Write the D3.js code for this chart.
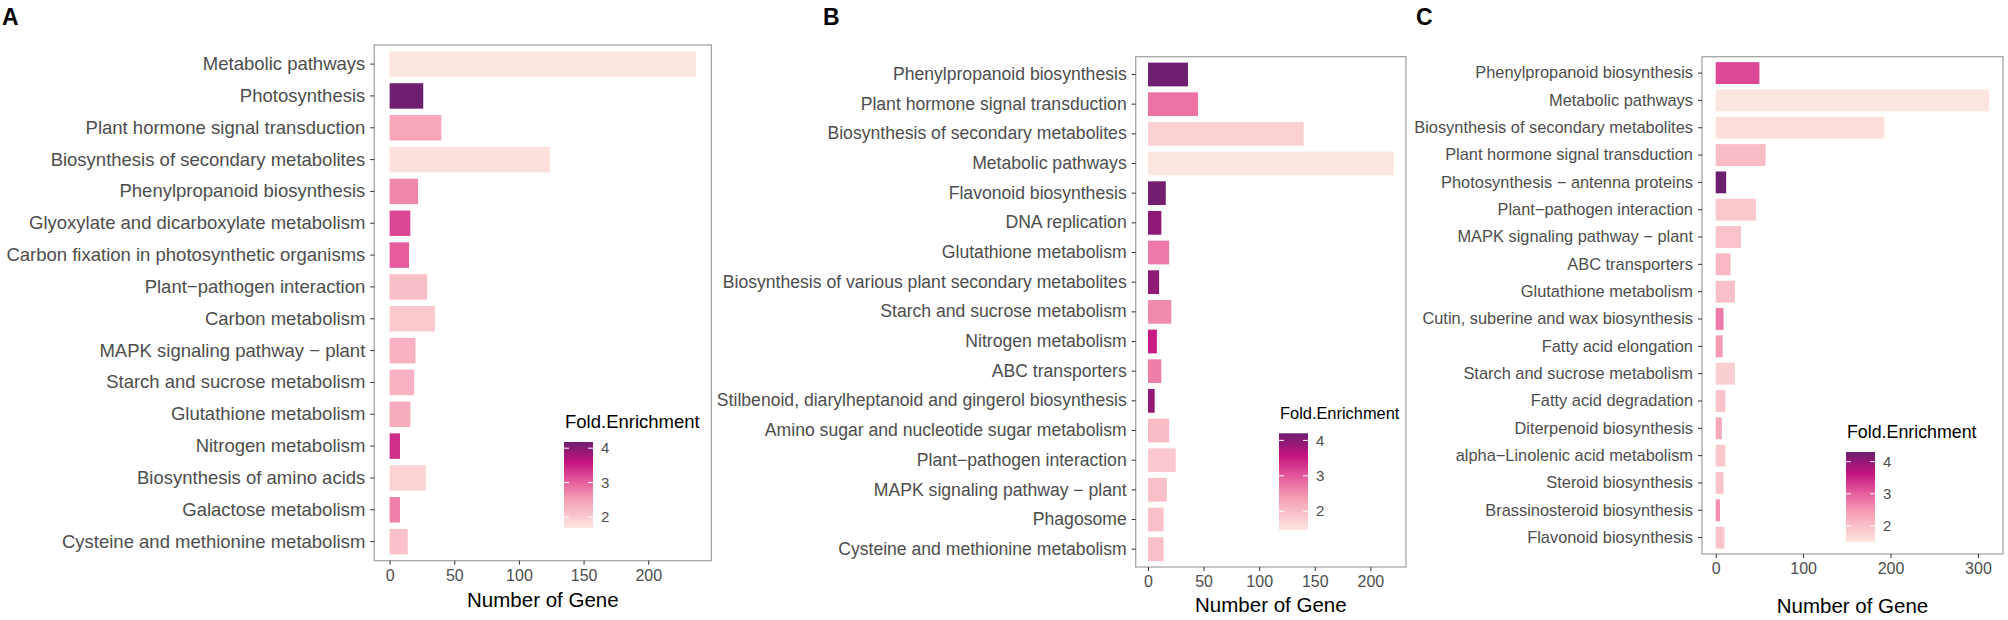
<!DOCTYPE html>
<html lang="en">
<head>
<meta charset="UTF-8">
<title>KEGG enrichment bars</title>
<script src="https://d3js.org/d3.v7.min.js"></script>
<style>
  body { margin: 0; background: #ffffff; }
  svg { display: block; font-family: "Liberation Sans", Arial, sans-serif; }
  .frame { fill: none; stroke: #a6a6a6; stroke-width: 1.3; }
  .axis text { fill: #4d4d4d; }
  .axis line { stroke: #333333; }
  .axis path { display: none; }
  .title { fill: #000000; }
</style>
</head>
<body>
<svg id="chart" width="2008" height="620"></svg>
<script>
// ---- data ----
var catsA = ["Metabolic pathways", "Photosynthesis", "Plant hormone signal transduction",
  "Biosynthesis of secondary metabolites", "Phenylpropanoid biosynthesis",
  "Glyoxylate and dicarboxylate metabolism", "Carbon fixation in photosynthetic organisms",
  "Plant\u2212pathogen interaction", "Carbon metabolism", "MAPK signaling pathway \u2212 plant",
  "Starch and sucrose metabolism", "Glutathione metabolism", "Nitrogen metabolism",
  "Biosynthesis of amino acids", "Galactose metabolism", "Cysteine and methionine metabolism"];
var countA = [237, 26, 40, 124, 22, 16, 15, 29, 35, 20, 19, 16, 8, 28, 8, 14];
var foldA = [1.68, 4.18, 2.4, 1.75, 2.7, 3.2, 3.05, 2.15, 2.0, 2.3, 2.3, 2.35, 3.4, 1.9, 2.75, 2.1];

var catsB = ["Phenylpropanoid biosynthesis", "Plant hormone signal transduction",
  "Biosynthesis of secondary metabolites", "Metabolic pathways", "Flavonoid biosynthesis",
  "DNA replication", "Glutathione metabolism", "Biosynthesis of various plant secondary metabolites",
  "Starch and sucrose metabolism", "Nitrogen metabolism", "ABC transporters",
  "Stilbenoid, diarylheptanoid and gingerol biosynthesis", "Amino sugar and nucleotide sugar metabolism",
  "Plant\u2212pathogen interaction", "MAPK signaling pathway \u2212 plant", "Phagosome",
  "Cysteine and methionine metabolism"];
var countB = [36, 45, 140, 221, 16, 12, 19, 10, 21, 8, 12, 6, 19, 25, 17, 14, 14];
var foldB = [4.2, 2.75, 1.75, 1.47, 4.15, 3.95, 2.7, 3.95, 2.55, 3.5, 2.65, 3.9, 2.0, 1.85, 1.95, 1.95, 1.95];

var catsC = ["Phenylpropanoid biosynthesis", "Metabolic pathways", "Biosynthesis of secondary metabolites",
  "Plant hormone signal transduction", "Photosynthesis \u2212 antenna proteins", "Plant\u2212pathogen interaction",
  "MAPK signaling pathway \u2212 plant", "ABC transporters", "Glutathione metabolism",
  "Cutin, suberine and wax biosynthesis", "Fatty acid elongation", "Starch and sucrose metabolism",
  "Fatty acid degradation", "Diterpenoid biosynthesis", "alpha\u2212Linolenic acid metabolism",
  "Steroid biosynthesis", "Brassinosteroid biosynthesis", "Flavonoid biosynthesis"];
var countC = [50, 313, 193, 57, 12, 46, 29, 17, 22, 9, 8, 22, 11, 7, 11, 9, 5, 10];
var foldC = [3.2, 1.5, 1.6, 2.05, 4.3, 1.9, 1.95, 2.1, 2.0, 2.75, 2.45, 1.8, 1.95, 2.3, 1.9, 1.95, 2.55, 1.95];

var ticksA = [0, 50, 100, 150, 200];
var ticksB = [0, 50, 100, 150, 200];
var ticksC = [0, 100, 200, 300];
var legendTicks = [2, 3, 4];

// colour ramp (bottom -> top)
var rampStops = [0, 0.33, 0.56, 0.77, 1];
var rampColors = ["#fde6e0", "#f59fb5", "#e4579b", "#c2137f", "#6e1f6f"];

// ---- layout ----
var panels = [
  { id: "A", cats: catsA, counts: countA, folds: foldA, ticks: ticksA,
    letterX: 2, left: 374.3, right: 711.4, top: 45, bottom: 560.7, font: 18.5, titleY: 607,
    legX: 564, legTop: 442, legBottom: 528, legFont: 18.5 },
  { id: "B", cats: catsB, counts: countB, folds: foldB, ticks: ticksB,
    letterX: 823, left: 1135.7, right: 1406, top: 56.7, bottom: 567, font: 17.6, titleY: 612,
    legX: 1279, legTop: 433.3, legBottom: 530, legFont: 16.4 },
  { id: "C", cats: catsC, counts: countC, folds: foldC, ticks: ticksC,
    letterX: 1416, left: 1702, right: 2003, top: 56.7, bottom: 554, font: 16.4, titleY: 613,
    legX: 1846, legTop: 452, legBottom: 542, legFont: 17.8 }
];

var svg = d3.select("#chart");
svg.append("rect").attr("width", 2008).attr("height", 620).attr("fill", "#ffffff");

var ramp = d3.scaleLinear().domain(rampStops).range(rampColors).interpolate(d3.interpolateRgb);
var defs = svg.append("defs");
var grad = defs.append("linearGradient").attr("id", "fe")
  .attr("x1", 0).attr("y1", 1).attr("x2", 0).attr("y2", 0);
rampStops.forEach(function (s, i) {
  grad.append("stop").attr("offset", s).attr("stop-color", rampColors[i]);
});

panels.forEach(function (p) {
  var g = svg.append("g");
  var maxC = d3.max(p.counts);
  var lo = d3.min(p.folds), hi = d3.max(p.folds);

  var x = d3.scaleLinear().domain([-0.05 * maxC, 1.05 * maxC]).range([p.left, p.right]);
  var y = d3.scaleBand().domain(p.cats).range([p.top, p.bottom])
    .paddingInner(0.2).paddingOuter(0.2);
  var fillOf = function (f) { return ramp((f - lo) / (hi - lo)); };

  // panel letter
  g.append("text").attr("x", p.letterX).attr("y", 25)
    .style("font-size", "23px").style("font-weight", "bold").text(p.id);

  // bars
  g.selectAll("rect.bar").data(p.cats).enter().append("rect")
    .attr("class", "bar")
    .attr("x", x(0))
    .attr("y", function (d) { return y(d); })
    .attr("width", function (d, i) { return x(p.counts[i]) - x(0); })
    .attr("height", y.bandwidth())
    .attr("fill", function (d, i) { return fillOf(p.folds[i]); });

  g.append("rect").attr("class", "frame")
    .attr("x", p.left).attr("y", p.top)
    .attr("width", p.right - p.left).attr("height", p.bottom - p.top);

  // axes
  var ya = g.append("g").attr("class", "axis")
    .attr("transform", "translate(" + p.left + ",0)")
    .call(d3.axisLeft(y).tickSize(4).tickPadding(5));
  ya.selectAll("text").style("font-size", p.font + "px");

  var xa = g.append("g").attr("class", "axis")
    .attr("transform", "translate(0," + p.bottom + ")")
    .call(d3.axisBottom(x).tickValues(p.ticks).tickSize(4).tickPadding(5));
  xa.selectAll("text").style("font-size", "16px");

  g.append("text").attr("class", "title")
    .attr("x", (p.left + p.right) / 2).attr("y", p.titleY)
    .attr("text-anchor", "middle").style("font-size", "20.5px")
    .text("Number of Gene");

  // colour bar legend
  var ly = d3.scaleLinear().domain([lo, hi]).range([p.legBottom, p.legTop]);
  var lw = 29;
  g.append("text").attr("class", "title")
    .attr("x", p.legX + 1).attr("y", p.legTop - 14)
    .style("font-size", p.legFont + "px").text("Fold.Enrichment");
  g.append("rect").attr("x", p.legX).attr("y", p.legTop)
    .attr("width", lw).attr("height", p.legBottom - p.legTop)
    .attr("fill", "url(#fe)");
  legendTicks.forEach(function (t) {
    g.append("line").attr("x1", p.legX).attr("x2", p.legX + 5)
      .attr("y1", ly(t)).attr("y2", ly(t)).attr("stroke", "#ffffff");
    g.append("line").attr("x1", p.legX + lw - 5).attr("x2", p.legX + lw)
      .attr("y1", ly(t)).attr("y2", ly(t)).attr("stroke", "#ffffff");
    g.append("text").attr("x", p.legX + lw + 8).attr("y", ly(t))
      .attr("dy", "0.35em").style("font-size", "15px").attr("fill", "#4d4d4d")
      .text(t);
  });
});
</script>
</body>
</html>
